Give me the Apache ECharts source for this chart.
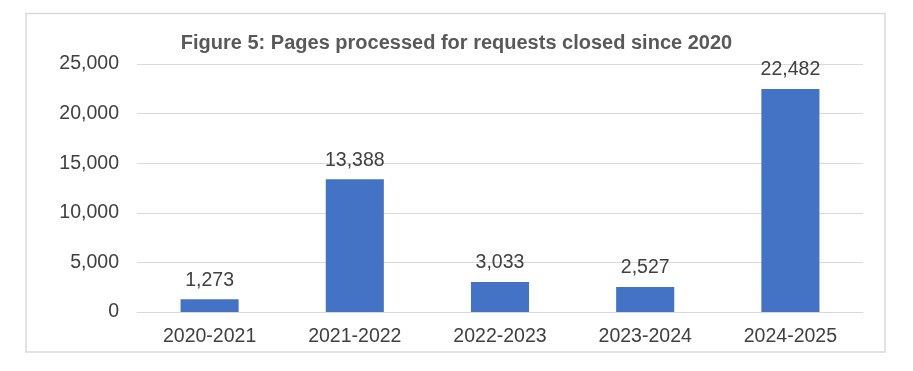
<!DOCTYPE html>
<html>
<head>
<meta charset="utf-8">
<script src="https://cdn.jsdelivr.net/npm/echarts@6/dist/echarts.min.js"></script>
<style>
html,body{margin:0;padding:0;background:#fff;}
#c{width:913px;height:371px;}
</style>
</head>
<body>
<div id="c"></div>
<script>
var categories = ['2020-2021', '2021-2022', '2022-2023', '2023-2024', '2024-2025'];
var pages = [1273, 13388, 3033, 2527, 22482];
var titleText = 'Figure 5: Pages processed for requests closed since 2020';

var chart = echarts.init(document.getElementById('c'));
chart.setOption({
  animation: false,
  title: {
    text: titleText,
    left: 'center',
    top: 28,
    textStyle: {fontFamily: 'Liberation Sans, Arial', fontSize: 20, fontWeight: 'bold', color: '#595959'}
  },
  graphic: [{
    type: 'rect',
    shape: {x: 26, y: 13.5, width: 859, height: 338.5},
    style: {fill: 'none', stroke: '#d9d9d9', lineWidth: 1.5},
    silent: true,
    z: -1
  }],
  grid: {left: 137, right: 50, top: 64, bottom: 59},
  xAxis: {
    type: 'category',
    data: categories,
    axisLine: {show: true, lineStyle: {color: '#d9d9d9', width: 1}},
    axisTick: {show: false},
    axisLabel: {fontFamily: 'Liberation Sans, Arial', fontSize: 19.5, color: '#404040', margin: 15}
  },
  yAxis: {
    type: 'value',
    min: 0, max: 25000, interval: 5000,
    axisLine: {show: false},
    axisTick: {show: false},
    splitLine: {lineStyle: {color: '#d9d9d9', width: 1}},
    axisLabel: {
      fontFamily: 'Liberation Sans, Arial', fontSize: 19.5, color: '#404040', margin: 18,
      formatter: function (v) { return v.toLocaleString('en-US'); }
    }
  },
  series: [{
    type: 'bar',
    data: pages,
    barWidth: '40%',
    itemStyle: {color: '#4472c4'},
    label: {
      show: true, position: 'top', distance: 9,
      fontFamily: 'Liberation Sans, Arial', fontSize: 19.5, color: '#404040',
      formatter: function (p) { return p.value.toLocaleString('en-US'); }
    }
  }]
});
</script>
</body>
</html>
